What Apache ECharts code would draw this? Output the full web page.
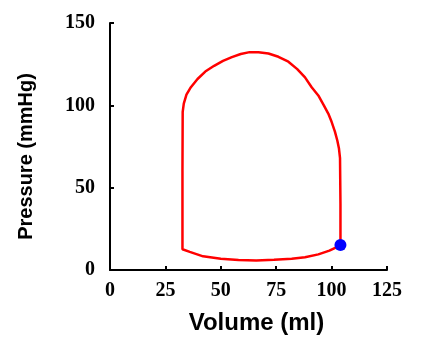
<!DOCTYPE html>
<html>
<head>
<meta charset="utf-8">
<script src="https://cdn.jsdelivr.net/npm/echarts@6/dist/echarts.min.js"></script>
<style>
html,body{margin:0;padding:0;background:#fff;}
#chart{width:424px;height:357px;}
</style>
</head>
<body>
<div id="chart"></div>
<script>
// Pressure-volume loop (starting at end-diastole, counter-clockwise)
var loopVolume = [104, 104, 103.8, 103.3, 102.6, 101.5, 100, 98.5, 96.5, 94, 91, 88, 84.5, 80.5, 76, 71.5, 67, 63, 59, 55, 51, 47, 43, 39.5, 36.5, 34.5, 33.3, 32.8, 32.7, 32.7, 32.7, 36, 42, 50, 58, 66, 74, 82, 88, 94, 99, 104];
var loopPressure = [15, 40, 68, 74, 78.5, 84, 90, 95, 100, 106, 111, 117, 122, 126.5, 129.5, 131.5, 132.3, 132.3, 131.2, 129.3, 127, 124, 120.5, 116, 111, 106.5, 101, 96, 60, 30, 12.6, 11, 8.3, 6.8, 6, 5.8, 6.2, 6.8, 7.8, 9.5, 11.8, 15];
var dotVolume = [104];
var dotPressure = [15.2];
var xTicks = [0, 25, 50, 75, 100, 125];
var yTicks = [0, 50, 100, 150];

var loopData = loopVolume.map(function (v, i) { return [v, loopPressure[i]]; });
var dotData = dotVolume.map(function (v, i) { return [v, dotPressure[i]]; });

var chart = echarts.init(document.getElementById('chart'), null, {renderer: 'canvas'});
var tickFont = {fontFamily: '"Liberation Serif", "Times New Roman", serif', fontWeight: 'bold', fontSize: 20, color: '#000'};
chart.setOption({
  animation: false,
  backgroundColor: '#ffffff',
  grid: {left: 110, right: 37, top: 23, bottom: 87, containLabel: false},
  xAxis: {
    type: 'value',
    min: xTicks[0], max: xTicks[xTicks.length - 1], interval: 25,
    name: 'Volume (ml)',
    nameLocation: 'middle',
    nameGap: 41,
    nameTextStyle: {fontFamily: '"Liberation Sans", Arial, sans-serif', fontWeight: 'bold', fontSize: 24, color: '#000', padding: [0, 0, 0, 16]},
    axisLine: {show: true, lineStyle: {color: '#000', width: 2}},
    axisTick: {show: true, inside: true, length: 4, lineStyle: {color: '#000', width: 2}},
    axisLabel: Object.assign({margin: 11}, tickFont),
    splitLine: {show: false}
  },
  yAxis: {
    type: 'value',
    min: yTicks[0], max: yTicks[yTicks.length - 1], interval: 50,
    name: 'Pressure (mmHg)',
    nameLocation: 'middle',
    nameGap: 74,
    nameRotate: 90,
    nameTextStyle: {fontFamily: '"Liberation Sans", Arial, sans-serif', fontWeight: 'bold', fontSize: 20, color: '#000', padding: [0, 20, 0, 0]},
    axisLine: {show: true, lineStyle: {color: '#000', width: 2}},
    axisTick: {show: true, inside: true, length: 4, lineStyle: {color: '#000', width: 2}},
    axisLabel: Object.assign({margin: 15}, tickFont),
    splitLine: {show: false}
  },
  series: [
    {
      type: 'line',
      data: loopData,
      smooth: false,
      showSymbol: false,
      symbol: 'none',
      lineStyle: {color: '#ff0000', width: 2.5},
      z: 2
    },
    {
      type: 'scatter',
      data: dotData,
      symbol: 'circle',
      symbolSize: 12,
      itemStyle: {color: '#0000ff', opacity: 1},
      z: 3
    }
  ]
});
</script>
</body>
</html>
